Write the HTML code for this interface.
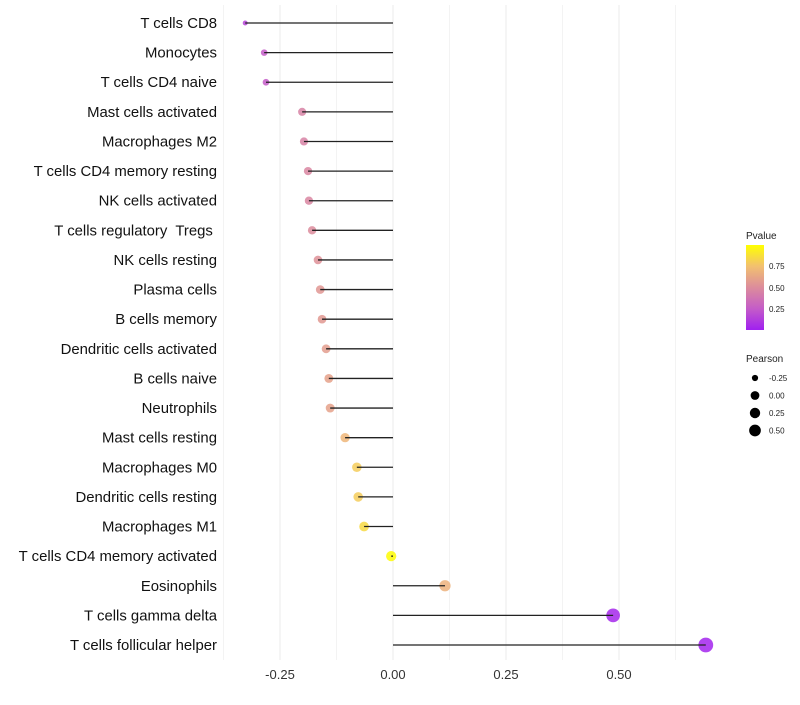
<!DOCTYPE html>
<html><head><meta charset="utf-8"><style>
body{margin:0;background:#fff;font-family:"Liberation Sans",sans-serif}
</style></head><body>
<svg id="chart" width="800" height="700" xmlns="http://www.w3.org/2000/svg" font-family="Liberation Sans, sans-serif">
<defs><linearGradient id="pg" x1="0" y1="1" x2="0" y2="0">
<stop offset="0" stop-color="#A020F0"/><stop offset="0.25" stop-color="#C45CC8"/><stop offset="0.5" stop-color="#DC8C9C"/><stop offset="0.75" stop-color="#F2C070"/><stop offset="1" stop-color="#FFFF00"/></linearGradient></defs>
<g id="grid"></g>
<g id="marks"></g>
<g id="labels"></g>
<g id="xticks"></g>
<g>
<text x="746" y="239" font-size="10" fill="#222">Pvalue</text>
<rect x="746" y="245" width="18" height="85" fill="url(#pg)"/>
<text x="769" y="269" font-size="8" fill="#222">0.75</text>
<text x="769" y="291" font-size="8" fill="#222">0.50</text>
<text x="769" y="312" font-size="8" fill="#222">0.25</text>
</g>
<g id="sizelegend">
<text x="746" y="362" font-size="10" fill="#222">Pearson</text>
</g>
</svg>
<script>
const categories=["T cells CD8","Monocytes","T cells CD4 naive","Mast cells activated","Macrophages M2","T cells CD4 memory resting","NK cells activated","T cells regulatory  Tregs ","NK cells resting","Plasma cells","B cells memory","Dendritic cells activated","B cells naive","Neutrophils","Mast cells resting","Macrophages M0","Dendritic cells resting","Macrophages M1","T cells CD4 memory activated","Eosinophils","T cells gamma delta","T cells follicular helper"];
const pearson=[-0.327,-0.285,-0.281,-0.201,-0.197,-0.188,-0.186,-0.179,-0.166,-0.161,-0.157,-0.148,-0.142,-0.139,-0.106,-0.080,-0.077,-0.064,-0.004,0.115,0.487,0.692];
const pvalue=[0.15,0.25,0.25,0.45,0.45,0.47,0.47,0.5,0.52,0.55,0.56,0.58,0.6,0.6,0.7,0.8,0.8,0.85,0.99,0.68,0.03,0.02];
const xTicks=[-0.25,0,0.25,0.5];
const xTickLabels=["-0.25","0.00","0.25","0.50"];
const sizeLegendVals=[-0.25,0,0.25,0.5];
const NS="http://www.w3.org/2000/svg";
const x=v=>393+v*452;
const y=i=>23+i*(622/21);
const r=v=>2.2+5.2*Math.sqrt(Math.max(0,(v+0.33)/1.02));
const stops=[[0,[160,32,240]],[0.25,[196,92,200]],[0.5,[220,140,156]],[0.75,[242,192,112]],[1,[255,255,0]]];
function col(p){for(let k=1;k<stops.length;k++){if(p<=stops[k][0]){const a=stops[k-1],b=stops[k],t=(p-a[0])/(b[0]-a[0]);return 'rgb('+a[1].map((c,j)=>Math.round(c+(b[1][j]-c)*t)).join(',')+')';}}return 'rgb(255,255,0)';}
function mk(t,at,parent){const e=document.createElementNS(NS,t);for(const k in at)e.setAttribute(k,at[k]);parent.appendChild(e);return e;}
const grid=document.getElementById('grid'),marks=document.getElementById('marks'),labels=document.getElementById('labels'),xt=document.getElementById('xticks');
[-0.375,-0.125,0.125,0.375,0.625].forEach(v=>{const l=mk('line',{x1:x(v),x2:x(v),y1:5,y2:660,stroke:'#f3f3f3','stroke-width':1},grid);});
xTicks.forEach((v,i)=>{const l=mk('line',{x1:x(v),x2:x(v),y1:5,y2:660,stroke:'#ebebeb','stroke-width':1},grid);
const t=mk('text',{x:x(v),y:679,'text-anchor':'middle','font-size':13,fill:'#333'},xt);t.textContent=xTickLabels[i];});
categories.forEach((c,i)=>{
const t=mk('text',{x:217,y:y(i)+5,'text-anchor':'end','font-size':14.9,fill:'#111'},labels);t.setAttribute('xml:space','preserve');t.style.whiteSpace='pre';t.textContent=c;
const p=mk('circle',{cx:x(pearson[i]),cy:y(i),r:r(pearson[i]),fill:col(pvalue[i]),'fill-opacity':0.85},marks);
const s=mk('line',{x1:x(0),x2:x(pearson[i]),y1:y(i),y2:y(i),stroke:'#222','stroke-width':1.3},marks);
});
const sl=document.getElementById('sizelegend');
sizeLegendVals.forEach((v,i)=>{const cy=378+i*17.5;
const c=mk('circle',{cx:755,cy:cy,r:r(v)*0.85,fill:'#000'},sl);
const t=mk('text',{x:769,y:cy+3,'font-size':8,fill:'#222'},sl);t.textContent=v.toFixed(2);});
</script>
</body></html>
